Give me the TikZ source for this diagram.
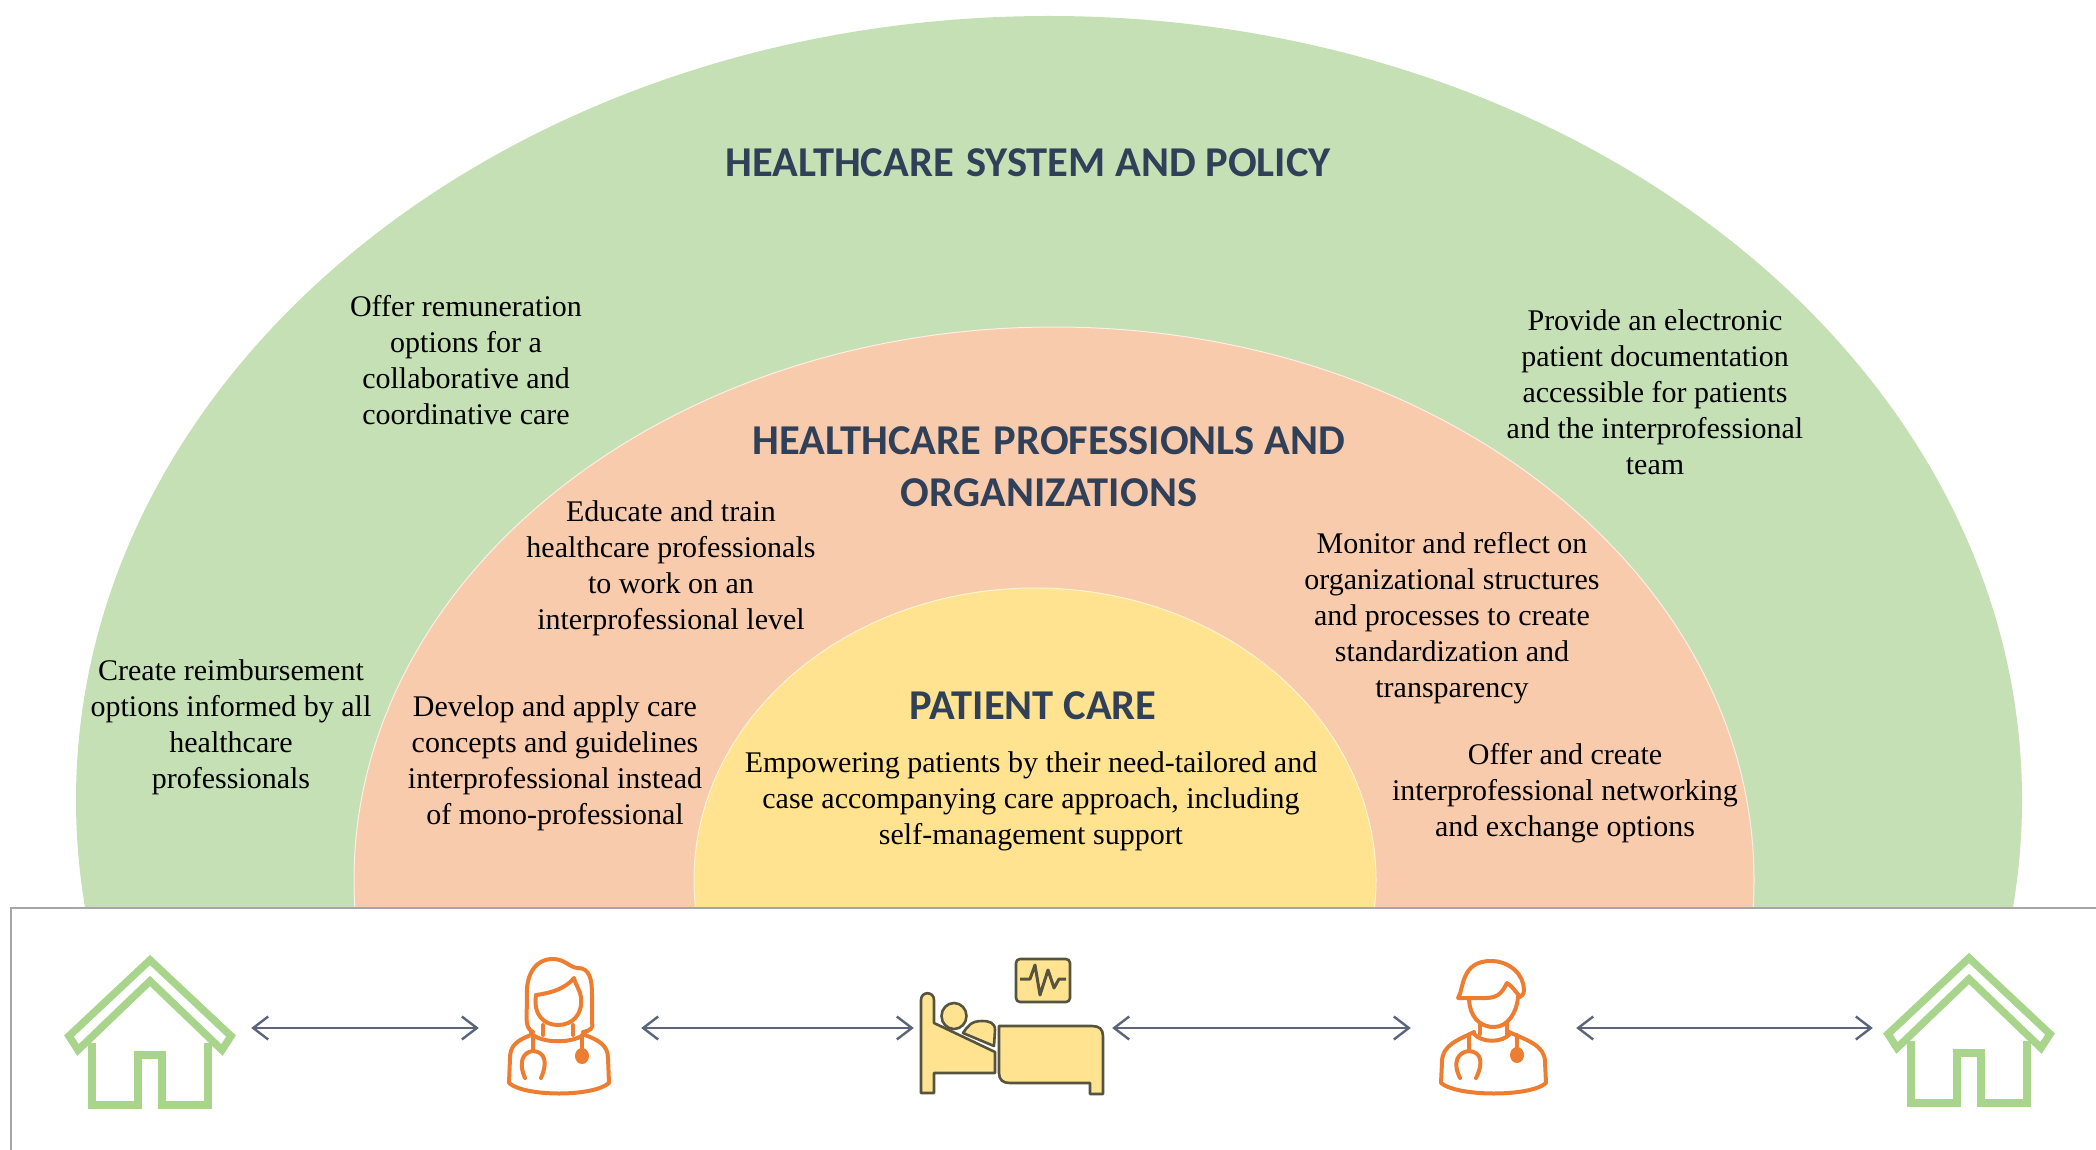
\documentclass[tikz,border=0pt]{standalone}
\usepackage{fontspec}
\setmainfont{Liberation Serif}
\newfontfamily\headfont{Carlito}[Scale=1]
\usetikzlibrary{arrows.meta}
\definecolor{outerg}{HTML}{C5E0B4}
\definecolor{midp}{HTML}{F8CBAD}
\definecolor{innery}{HTML}{FFE391}
\definecolor{homeg}{HTML}{A9D48C}
\definecolor{orangeic}{HTML}{ED7D31}
\definecolor{headc}{HTML}{2F4058}
\definecolor{flowc}{HTML}{5B657A}
\definecolor{bedline}{HTML}{56543F}
\tikzset{
  body/.style={font=\fontsize{30}{36}\selectfont, align=center, inner sep=0pt, text=black},
  headline/.style={font=\headfont\bfseries\fontsize{42.5}{52}\selectfont, align=center, inner sep=0pt, text=headc},
  slot/.style={inner sep=0pt, minimum height=2pt, draw=none},
  flow/.style={draw=flowc, line width=2.4pt, {Straight Barb[length=15pt,width=23pt,line width=2.4pt]}-{Straight Barb[length=15pt,width=23pt,line width=2.4pt]}},
  homeline/.style={draw=homeg, line width=7.5pt, miter limit=10},
  carel/.style={draw=orangeic, line width=4pt, line join=round, line cap=round},
  bedp/.style={draw=bedline, fill=innery, line width=2.6pt, line join=round},
  homeicon/.pic={
    \draw[homeline] (0,-71) -- (-81,5) -- (-72,19) -- (0,-50) -- (72,19) -- (81,5) -- cycle;
    \draw[homeline] (-58,12) -- (-58,74) -- (-12,74) -- (-12,24) -- (12,24) -- (12,74) -- (58,74) -- (58,12);
  }
}
\begin{document}
\begin{tikzpicture}[x=1pt,y=-1pt]
\useasboundingbox (0,0) rectangle (2096,1150);
\fill[white] (0,0) rectangle (2096,1150);
\begin{scope}
  \clip (0,0) rectangle (2096,908);
  \fill[outerg] (1049,800) ellipse [x radius=973, y radius=784];
  \filldraw[fill=midp, draw=white!70!midp, line width=1pt] (1054,880) ellipse [x radius=700, y radius=553];
  \filldraw[fill=innery, draw=white!60!innery, line width=1pt] (1035,880) ellipse [x radius=341, y radius=292];
\end{scope}
\draw[draw=black!35, line width=2.4pt] (11,1150) -- (11,908) -- (2096,908);

\node[headline] (t1) at (1028,163) {HEALTHCARE\hspace{3pt} SYSTEM AND POLICY};
\node[headline] (t2) at (1049,467) {HEALTHCARE\hspace{3pt} PROFESSIONLS AND\\ORGANIZATIONS};
\node[headline] (t3) at (1033,706) {PATIENT CARE};
\node[body] (b1) at (466,360) {Offer remuneration\\options  for a\\collaborative  and\\coordinative  care};
\node[body] (b2) at (1655,392) {Provide an electronic\\patient documentation\\accessible for patients\\and the interprofessional\\team};
\node[body] (b3) at (671,568) {Educate and train\\healthcare professionals\\to work on an\\interprofessional level};
\node[body] (b4) at (1452,618) {Monitor  and reflect on\\organizational  structures\\and processes to create\\standardization  and\\transparency};
\node[body] (b5) at (1565,793) {Offer and create\\interprofessional networking\\and exchange options};
\node[body] (b6) at (555,763) {Develop and apply care\\concepts and guidelines\\interprofessional  instead\\of mono-professional};
\node[body] (b7) at (231,727) {Create reimbursement\\options  informed by all\\healthcare\\professionals};
\node[body] (b8) at (1031,801) {Empowering patients by their need-tailored and\\case accompanying care approach, including\\self-management support};

% invisible slots the connectors attach to
\node[slot, minimum width=202pt] (home1) at (150,1028) {};
\node[slot, minimum width=162pt] (docf) at (560,1028) {};
\node[slot, minimum width=198pt] (bed) at (1013,1028) {};
\node[slot, minimum width=165pt] (docm) at (1493.5,1028) {};
\node[slot, minimum width=192pt] (home2) at (1969,1028) {};
\draw[flow] (home1) -- (docf);
\draw[flow] (docf) -- (bed);
\draw[flow] (bed) -- (docm);
\draw[flow] (docm) -- (home2);

\pic at (150,1031) {homeicon};
\pic at (1969,1029) {homeicon};

% female carer
\draw[carel] (533,1032) .. controls (524,1028) and (527,1015) .. (527,1000)
  .. controls (525,975) and (535,959) .. (553,959)
  .. controls (565,959) and (570,968) .. (578,968)
  .. controls (590,968) and (592,980) .. (592,995) -- (592,1022)
  .. controls (594,1028) and (590,1031) .. (583,1032);
\draw[carel] (536,995) .. controls (552,993) and (566,988) .. (574,978)
  .. controls (576,986) and (580,990) .. (581,997)
  .. controls (583,1015) and (572,1025) .. (558,1025)
  .. controls (544,1025) and (533,1015) .. (536,995);
\draw[carel] (543,1025) -- (543,1035) (573,1025) -- (573,1035);
\draw[carel] (531,1033) .. controls (540,1044) and (576,1044) .. (585,1033);
\draw[carel] (531,1035) .. controls (518,1040) and (510,1045) .. (510,1058) -- (509,1083)
  .. controls (525,1097) and (593,1097) .. (609,1083) -- (608,1058)
  .. controls (608,1045) and (598,1040) .. (585,1035);
\draw[carel] (533,1037) -- (533,1050) (525,1078) .. controls (518,1062) and (523,1052) .. (533,1051)
  .. controls (545,1052) and (548,1062) .. (541,1078);
\draw[carel] (582,1035) -- (582,1050);
\fill[orangeic] (582,1056) ellipse [x radius=7, y radius=8];

% male carer
\draw[carel] (1458,998) .. controls (1464,990) and (1460,961) .. (1491,961)
  .. controls (1510,961) and (1524,975) .. (1524,990)
  .. controls (1524,994) and (1522,996) .. (1520,997)
  .. controls (1516,992) and (1512,986) .. (1507,983)
  .. controls (1503,990) and (1500,998) .. (1486,998) -- cycle;
\draw[carel] (1469,1000) .. controls (1470,1015) and (1478,1027) .. (1494,1027)
  .. controls (1508,1027) and (1517,1012) .. (1518,997);
\draw[carel] (1480,1024) -- (1480,1034) (1507,1024) -- (1507,1034);
\draw[carel] (1474,1034) .. controls (1482,1043) and (1502,1043) .. (1510,1034);
\draw[carel] (1474,1032) .. controls (1458,1040) and (1442,1045) .. (1442,1062) -- (1441,1083)
  .. controls (1458,1097) and (1530,1097) .. (1546,1083) -- (1545,1062)
  .. controls (1545,1045) and (1526,1040) .. (1509,1032);
\draw[carel] (1469,1037) -- (1469,1050) (1460,1078) .. controls (1452,1062) and (1458,1052) .. (1469,1051)
  .. controls (1481,1052) and (1484,1062) .. (1476,1078);
\draw[carel] (1517,1035) -- (1517,1050);
\fill[orangeic] (1517,1055) ellipse [x radius=7, y radius=8];

% bed and monitor
\draw[bedp] (921,1093) -- (921,1000) .. controls (921,991) and (934,991) .. (934,1000) -- (934,1023)
  -- (995,1052) -- (995,1073) -- (934,1073) -- (934,1093) -- cycle;
\draw[bedp] (954,1016) ellipse [x radius=12.5, y radius=13];
\draw[bedp] (963,1033) .. controls (968,1026) and (971,1021) .. (982,1021)
  .. controls (990,1021) and (995,1023) .. (995,1030) -- (994,1046) -- cycle;
\draw[bedp] (999,1026) -- (1092,1026) .. controls (1099,1026) and (1103,1029) .. (1103,1036)
  -- (1103,1094) -- (1090,1094) -- (1090,1083) -- (1010,1083)
  .. controls (1003,1083) and (999,1080) .. (999,1073) -- cycle;
\draw[bedp, rounded corners=4pt] (1016,959) rectangle (1070,1002);
\draw[draw=bedline, line width=3pt, line join=round] (1020,979) -- (1030,979) -- (1035,965) -- (1040,995) -- (1048,970) -- (1054,988) -- (1059,979) -- (1066,979);
\end{tikzpicture}
\end{document}
